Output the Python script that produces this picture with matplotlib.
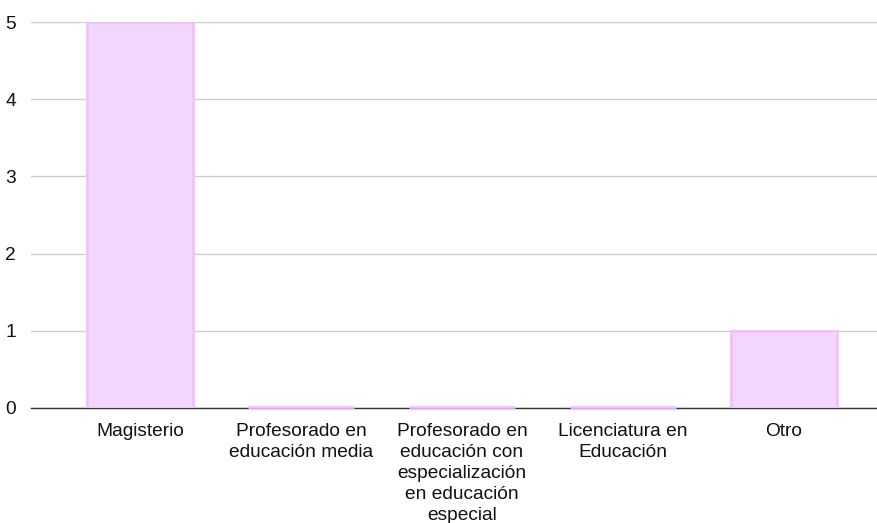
import matplotlib
matplotlib.use("Agg")
import matplotlib.pyplot as plt
import matplotlib.transforms as mtransforms

categories = ["Magisterio", "Profesorado en\neducación media",
              "Profesorado en\neducación con\nespecialización\nen educación\nespecial",
              "Licenciatura en\nEducación", "Otro"]
values = [5, 0, 0, 0, 1]
yticks = [0, 1, 2, 3, 4, 5]

plt.rcParams['font.family'] = ['Liberation Sans', 'DejaVu Sans']

W, H = 878, 523
fig = plt.figure(figsize=(W/100, H/100), dpi=100)
ax = fig.add_axes([31/W, (H-408)/H, (878-31)/W, (408-22)/H])

x = list(range(len(categories)))
bw = 0.66
ax.bar(x, values, width=bw, color='#F3D6FE', edgecolor='#EEC2FB', linewidth=2, zorder=3)

# zero-height bars render as a thin line on the baseline
off = mtransforms.offset_copy(ax.transData, fig=fig, x=0, y=1.0, units='dots')
for xi, v in zip(x, values):
    if v == 0:
        ax.plot([xi - bw/2, xi + bw/2], [v, v], color='#EEC2FB', linewidth=2,
                solid_capstyle='butt', transform=off, zorder=3, clip_on=False)

ax.set_xlim(-0.677, 4.584)
ax.set_ylim(0, 5)
ax.set_yticks(yticks)
ax.set_yticklabels([str(v) for v in yticks])
ax.set_xticks(x)
ax.set_xticklabels(categories, linespacing=1.32)
ax.grid(axis='y', color='#CCCCCC', linewidth=1, zorder=0)
for s in ['top', 'right', 'left']:
    ax.spines[s].set_visible(False)
ax.spines['bottom'].set_color('#333333')
ax.spines['bottom'].set_linewidth(1)
ax.spines['bottom'].set_zorder(2.5)
ax.tick_params(axis='both', length=0, labelsize=13.8, colors='#111111')
ax.tick_params(axis='x', pad=10.5)
ax.tick_params(axis='y', pad=11)
for lab in ax.get_yticklabels():
    lab.set_horizontalalignment('right')

fig.savefig("out.png", dpi=100)
